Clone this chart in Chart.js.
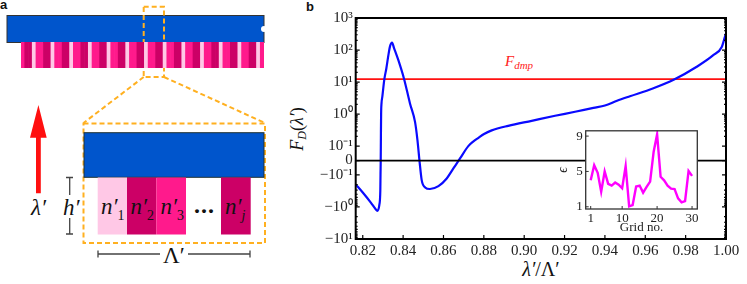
<!DOCTYPE html>
<html>
<head>
<meta charset="utf-8">
<title>Grating and dispersion chart</title>
<script src="https://cdn.jsdelivr.net/npm/chart.js@4"></script>
<style>
    html, body { margin: 0; padding: 0; background: #fff; }
    #page { position: relative; width: 747px; height: 284px; overflow: hidden; }
    #page svg, #page canvas { position: absolute; display: block; }
    text { font-family: "Liberation Serif", serif; fill: #111; }
    .math { font-style: italic; }
    .panel { font-family: "Liberation Sans", sans-serif; font-weight: bold; font-size: 13px; }
</style>
</head>
<body>
<div id="page">
    <svg id="schematic" width="747" height="284" style="left:0;top:0">
        <text class="panel" x="0" y="9">a</text>
        <text class="panel" x="306" y="11">b</text>

        <rect x="7" y="15.5" width="257" height="27" fill="#0055cc" stroke="#333" stroke-width="1"/>
        <circle cx="264" cy="29" r="3" fill="#fff"/>

        <g fill="none" stroke="#ffb020" stroke-width="2" stroke-dasharray="5 3">
            <rect x="143.7" y="6.7" width="20.3" height="70.3"/>
            <path d="M143.7 77 L83.5 123"/>
            <path d="M164 77 L265 123"/>
            <rect x="83.5" y="123.5" width="181.5" height="119.5"/>
        </g>

        <rect x="84" y="132.7" width="180" height="44.6" fill="#0055cc" stroke="#233" stroke-width="1"/>
        <rect x="97.7" y="177.5" width="29.3" height="57" fill="#ffc8e6"/>
        <rect x="127" y="177.5" width="29.3" height="57" fill="#cc0066"/>
        <rect x="156.3" y="177.5" width="29.7" height="57" fill="#ff1a8c"/>
        <rect x="221" y="177.5" width="29.7" height="57" fill="#cc0066"/>

        <g font-size="23">
            <text class="math" x="101" y="214">n′<tspan font-size="14" dy="6" font-style="normal">1</tspan></text>
            <text class="math" x="130.5" y="214">n′<tspan font-size="14" dy="6" font-style="normal">2</tspan></text>
            <text class="math" x="160.5" y="214">n′<tspan font-size="14" dy="6" font-style="normal">3</tspan></text>
            <text class="math" x="225" y="214">n′<tspan font-size="14" dy="6">j</tspan></text>
            <text x="194" y="213" font-weight="bold" font-size="24" letter-spacing="1">...</text>
            <text class="math" x="63" y="215">h′</text>
            <text class="math" x="31" y="215">λ′</text>
            <text x="163" y="263">Λ′</text>
        </g>

        <g stroke="#444" stroke-width="1.3" fill="none">
            <path d="M66 177.5 H73 M69.7 177.5 V195 M69.7 218 V234 M66 234 H73"/>
            <path d="M98 250.5 V257.5 M98 254 H160 M188 254 H250 M250 250.5 V257.5"/>
        </g>

        <path d="M38.4 105 L46.7 137.7 L40.8 137.7 L40.8 193.3 L36 193.3 L36 137.7 L30 137.7 Z" fill="#ff0f0f"/>

        <text class="math" x="505" y="66" font-size="15" style="fill:#f22">F<tspan font-size="11" dy="3">dmp</tspan></text>
        <text x="541" y="276" text-anchor="middle" font-size="20"><tspan class="math">λ′</tspan>/Λ′</text>
        <text transform="translate(303 129) rotate(-90)" text-anchor="middle" font-size="18"><tspan class="math">F</tspan><tspan class="math" font-size="12" dy="3">D</tspan><tspan dy="-3">(</tspan><tspan class="math">λ′</tspan>)</text>
    </svg>
    <canvas id="grating" width="243" height="26" style="left:21px;top:42px"></canvas>
    <canvas id="main" width="457" height="284" style="left:290px;top:0"></canvas>
    <canvas id="inset" width="150" height="115" style="left:555px;top:120px"></canvas>
</div>

<script>
// Main curve
const wavelengths = [
    0.8165, 0.8200, 0.8240, 0.8265, 0.8272, 0.8282, 0.8287, 0.8288, 0.8289, 0.8290,
    0.8291, 0.8293, 0.8297, 0.8307, 0.8317, 0.8327, 0.8335, 0.8345, 0.8355, 0.8376, 0.8405,
    0.8434, 0.8459, 0.8471, 0.8481, 0.8492, 0.8509, 0.8533, 0.8575, 0.8616, 0.8649,
    0.8682, 0.8723, 0.8747, 0.8773, 0.8801, 0.8839, 0.8921, 0.9037, 0.9153, 0.9252, 0.9343, 0.9400,
    0.9460, 0.9524, 0.9637, 0.9743, 0.9855, 0.9937, 0.9979, 0.9995, 1.0000
];
const dampingForce = [
    -0.197, -0.355, -0.73, -1.2, -1.32, -0.87, -0.3, -0.09, 0, 0.25,
    1.07, 2.2, 3.5, 12.3, 27, 69, 130, 170, 115, 49, 12.3,
    2.15, 0.57, 0.155, 0, -0.145, -0.245, -0.275, -0.224, -0.129, -0.055,
    0.0146, 0.1, 0.138, 0.181, 0.24, 0.31, 0.43, 0.617, 0.885, 1.18, 1.57, 1.85,
    2.6, 3.6, 6.3, 12, 30, 69, 125, 262, 330
];
const dampThreshold = 12.3;

const xTicks = [0.82, 0.84, 0.86, 0.88, 0.90, 0.92, 0.94, 0.96, 0.98, 1.00];
const yTicks = [-10, -1, -0.1, 0, 0.1, 1, 10, 100, 1000];
const yTickLabels = ['−10¹', '−10⁰', '−10⁻¹', '0', '10⁻¹', '10⁰', '10¹', '10²', '10³'];

// Inset
const gridNumbers = [1, 2, 3, 4, 5, 6, 7, 8, 9, 10, 11, 12, 13, 14, 15, 16, 17, 18, 19, 20, 21, 22, 23, 24, 25, 26, 27, 28, 29, 30];
const permittivity = [4.0, 5.7, 4.85, 2.7, 5.0, 3.6, 3.4, 3.75, 3.5, 3.1, 5.6, 1.05, 1.2, 3.3, 3.4, 2.6, 3.25, 3.85, 7.2, 9.2, 4.4, 4.0, 3.4, 3.05, 3.0, 1.95, 1.5, 1.65, 5.05, 4.5];
const insetXTicks = [1, 10, 20, 30];
const insetYTicks = [1, 5, 9];

// Grating stripes, left to right
const stripes = ['hot', 'dark', 'dark', 'pale'];
for (let i = 0; i < 12; i++) stripes.push('hot', 'hot', 'dark', 'dark', 'pale');
stripes.push('hot');
const stripeColors = { pale: '#ffc8e6', hot: '#ff1a8c', dark: '#cc0066' };

const LINTHRESH = 0.1;
const LINSCALE = 0.45;

function symlog(v) {
    const a = Math.abs(v);
    if (a <= LINTHRESH) return v / LINTHRESH * LINSCALE;
    return Math.sign(v) * (Math.log10(a / LINTHRESH) + LINSCALE);
}

function symexp(f) {
    const a = Math.abs(f);
    if (a <= LINSCALE) return f / LINSCALE * LINTHRESH;
    return Math.sign(f) * LINTHRESH * Math.pow(10, a - LINSCALE);
}

// y scale with a linear part around zero, like matplotlib's symlog
class SymlogScale extends Chart.LinearScale {
    buildTicks() {
        return yTicks.map(value => ({ value }));
    }
    getPixelForValue(value) {
        const lo = symlog(this.min);
        const hi = symlog(this.max);
        return this.bottom - (symlog(value) - lo) / (hi - lo) * (this.bottom - this.top);
    }
    getValueForPixel(pixel) {
        const lo = symlog(this.min);
        const hi = symlog(this.max);
        return symexp(lo + (this.bottom - pixel) / (this.bottom - this.top) * (hi - lo));
    }
}
SymlogScale.id = 'symlog';
SymlogScale.defaults = Chart.LinearScale.defaults;
Chart.register(SymlogScale);

const minorValues = [];
[0.1, 1, 10, 100].forEach(decade => {
    for (let m = 2; m <= 9; m++) {
        minorValues.push(decade * m);
        if (decade * m < 10) minorValues.push(-decade * m);
    }
});

// Frame and inward ticks
const framePlugin = {
    id: 'frame',
    afterDatasetsDraw(chart, args, opts) {
        const { ctx, chartArea: a, scales } = chart;
        ctx.save();
        ctx.strokeStyle = opts.color;
        ctx.lineWidth = opts.tickWidth;
        ctx.beginPath();
        scales.x.ticks.forEach(t => {
            const px = scales.x.getPixelForValue(t.value);
            ctx.moveTo(px, a.bottom);
            ctx.lineTo(px, a.bottom - opts.major);
        });
        scales.y.ticks.forEach(t => {
            const py = scales.y.getPixelForValue(t.value);
            ctx.moveTo(a.left, py);
            ctx.lineTo(a.left + opts.major, py);
            if (opts.bothSides) {
                ctx.moveTo(a.right, py);
                ctx.lineTo(a.right - opts.major, py);
            }
        });
        if (opts.minor) {
            minorValues.forEach(v => {
                const py = scales.y.getPixelForValue(v);
                ctx.moveTo(a.left, py);
                ctx.lineTo(a.left + opts.minor, py);
                ctx.moveTo(a.right, py);
                ctx.lineTo(a.right - opts.minor, py);
            });
        }
        ctx.stroke();
        ctx.lineWidth = opts.width;
        ctx.strokeRect(a.left, a.top, a.right - a.left, a.bottom - a.top);
        ctx.restore();
    }
};

const whitePlot = {
    id: 'whitePlot',
    beforeDraw(chart) {
        const { ctx, chartArea: a } = chart;
        ctx.save();
        ctx.fillStyle = '#fff';
        ctx.fillRect(a.left, a.top, a.right - a.left, a.bottom - a.top);
        ctx.restore();
    }
};

const serif = '"Liberation Serif", serif';

new Chart(document.getElementById('main'), {
    type: 'line',
    plugins: [framePlugin],
    data: {
        datasets: [
            {
                label: 'F_D',
                data: wavelengths.map((x, i) => ({ x, y: dampingForce[i] })),
                borderColor: '#0a0aff',
                borderWidth: 2.2,
                pointRadius: 0,
                cubicInterpolationMode: 'monotone',
                order: 2
            },
            {
                label: 'F_dmp',
                data: [{ x: wavelengths[0], y: dampThreshold }, { x: 1, y: dampThreshold }],
                borderColor: '#ff1010',
                borderWidth: 1.8,
                pointRadius: 0,
                order: 3
            },
            {
                label: 'zero',
                data: [{ x: wavelengths[0], y: 0 }, { x: 1, y: 0 }],
                borderColor: '#000',
                borderWidth: 1.8,
                pointRadius: 0,
                order: 1
            }
        ]
    },
    options: {
        responsive: false,
        animation: false,
        devicePixelRatio: 1,
        layout: { padding: { top: 18, right: 21, left: 0, bottom: 0 } },
        plugins: {
            legend: { display: false },
            tooltip: { enabled: false },
            frame: { color: '#000', width: 2, tickWidth: 1.2, major: 4, minor: 2, bothSides: true }
        },
        scales: {
            x: {
                type: 'linear',
                min: wavelengths[0],
                max: 1,
                grid: { display: false, drawTicks: false },
                border: { display: false },
                afterBuildTicks(scale) { scale.ticks = xTicks.map(value => ({ value })); },
                afterFit(scale) { scale.height = 45; },
                ticks: {
                    autoSkip: false,
                    maxRotation: 0,
                    padding: 3,
                    color: '#222',
                    font: { family: serif, size: 15 },
                    callback: v => v.toFixed(2)
                }
            },
            y: {
                type: 'symlog',
                min: -10,
                max: 1000,
                grid: { display: false, drawTicks: false },
                border: { display: false },
                afterFit(scale) { scale.width = 65.7; },
                ticks: {
                    autoSkip: false,
                    padding: 3,
                    color: '#222',
                    font: { family: serif, size: 15 },
                    callback: v => yTickLabels[yTicks.indexOf(v)]
                }
            }
        }
    }
});

new Chart(document.getElementById('inset'), {
    type: 'line',
    plugins: [whitePlot, framePlugin],
    data: {
        datasets: [{
            label: 'epsilon',
            data: gridNumbers.map((x, i) => ({ x, y: permittivity[i] })),
            borderColor: '#ff00ff',
            borderWidth: 2.4,
            pointRadius: 0,
            tension: 0
        }]
    },
    options: {
        responsive: false,
        animation: false,
        devicePixelRatio: 1,
        layout: { padding: { top: 6, right: 7.7, left: 0, bottom: 0 } },
        plugins: {
            legend: { display: false },
            tooltip: { enabled: false },
            frame: { color: '#333', width: 1.3, tickWidth: 1, major: 3, minor: 0, bothSides: false }
        },
        scales: {
            x: {
                type: 'linear',
                min: -0.43,
                max: 31.5,
                grid: { display: false, drawTicks: false },
                border: { display: false },
                afterBuildTicks(scale) { scale.ticks = insetXTicks.map(value => ({ value })); },
                afterFit(scale) { scale.height = 26; },
                title: {
                    display: true,
                    text: 'Grid no.',
                    color: '#222',
                    padding: 0,
                    font: { family: serif, size: 13 }
                },
                ticks: {
                    autoSkip: false,
                    maxRotation: 0,
                    padding: 2,
                    color: '#222',
                    font: { family: serif, size: 13 }
                }
            },
            y: {
                type: 'linear',
                min: 0.75,
                max: 9.6,
                grid: { display: false, drawTicks: false },
                border: { display: false },
                afterBuildTicks(scale) { scale.ticks = insetYTicks.map(value => ({ value })); },
                afterFit(scale) { scale.width = 30.7; },
                title: {
                    display: true,
                    text: 'ϵ',
                    color: '#222',
                    padding: 0,
                    font: { family: serif, size: 14, style: 'italic' }
                },
                ticks: {
                    autoSkip: false,
                    padding: 3,
                    color: '#222',
                    font: { family: serif, size: 13 }
                }
            }
        }
    }
});

new Chart(document.getElementById('grating'), {
    type: 'bar',
    data: {
        labels: stripes.map((s, i) => i),
        datasets: [{
            data: stripes.map(() => 1),
            backgroundColor: stripes.map(s => stripeColors[s]),
            barPercentage: 1,
            categoryPercentage: 1,
            borderWidth: 0
        }]
    },
    options: {
        responsive: false,
        animation: false,
        devicePixelRatio: 1,
        layout: { padding: 0 },
        plugins: { legend: { display: false }, tooltip: { enabled: false } },
        scales: {
            x: { display: false },
            y: { display: false, min: 0, max: 1 }
        }
    }
});
</script>
</body>
</html>
